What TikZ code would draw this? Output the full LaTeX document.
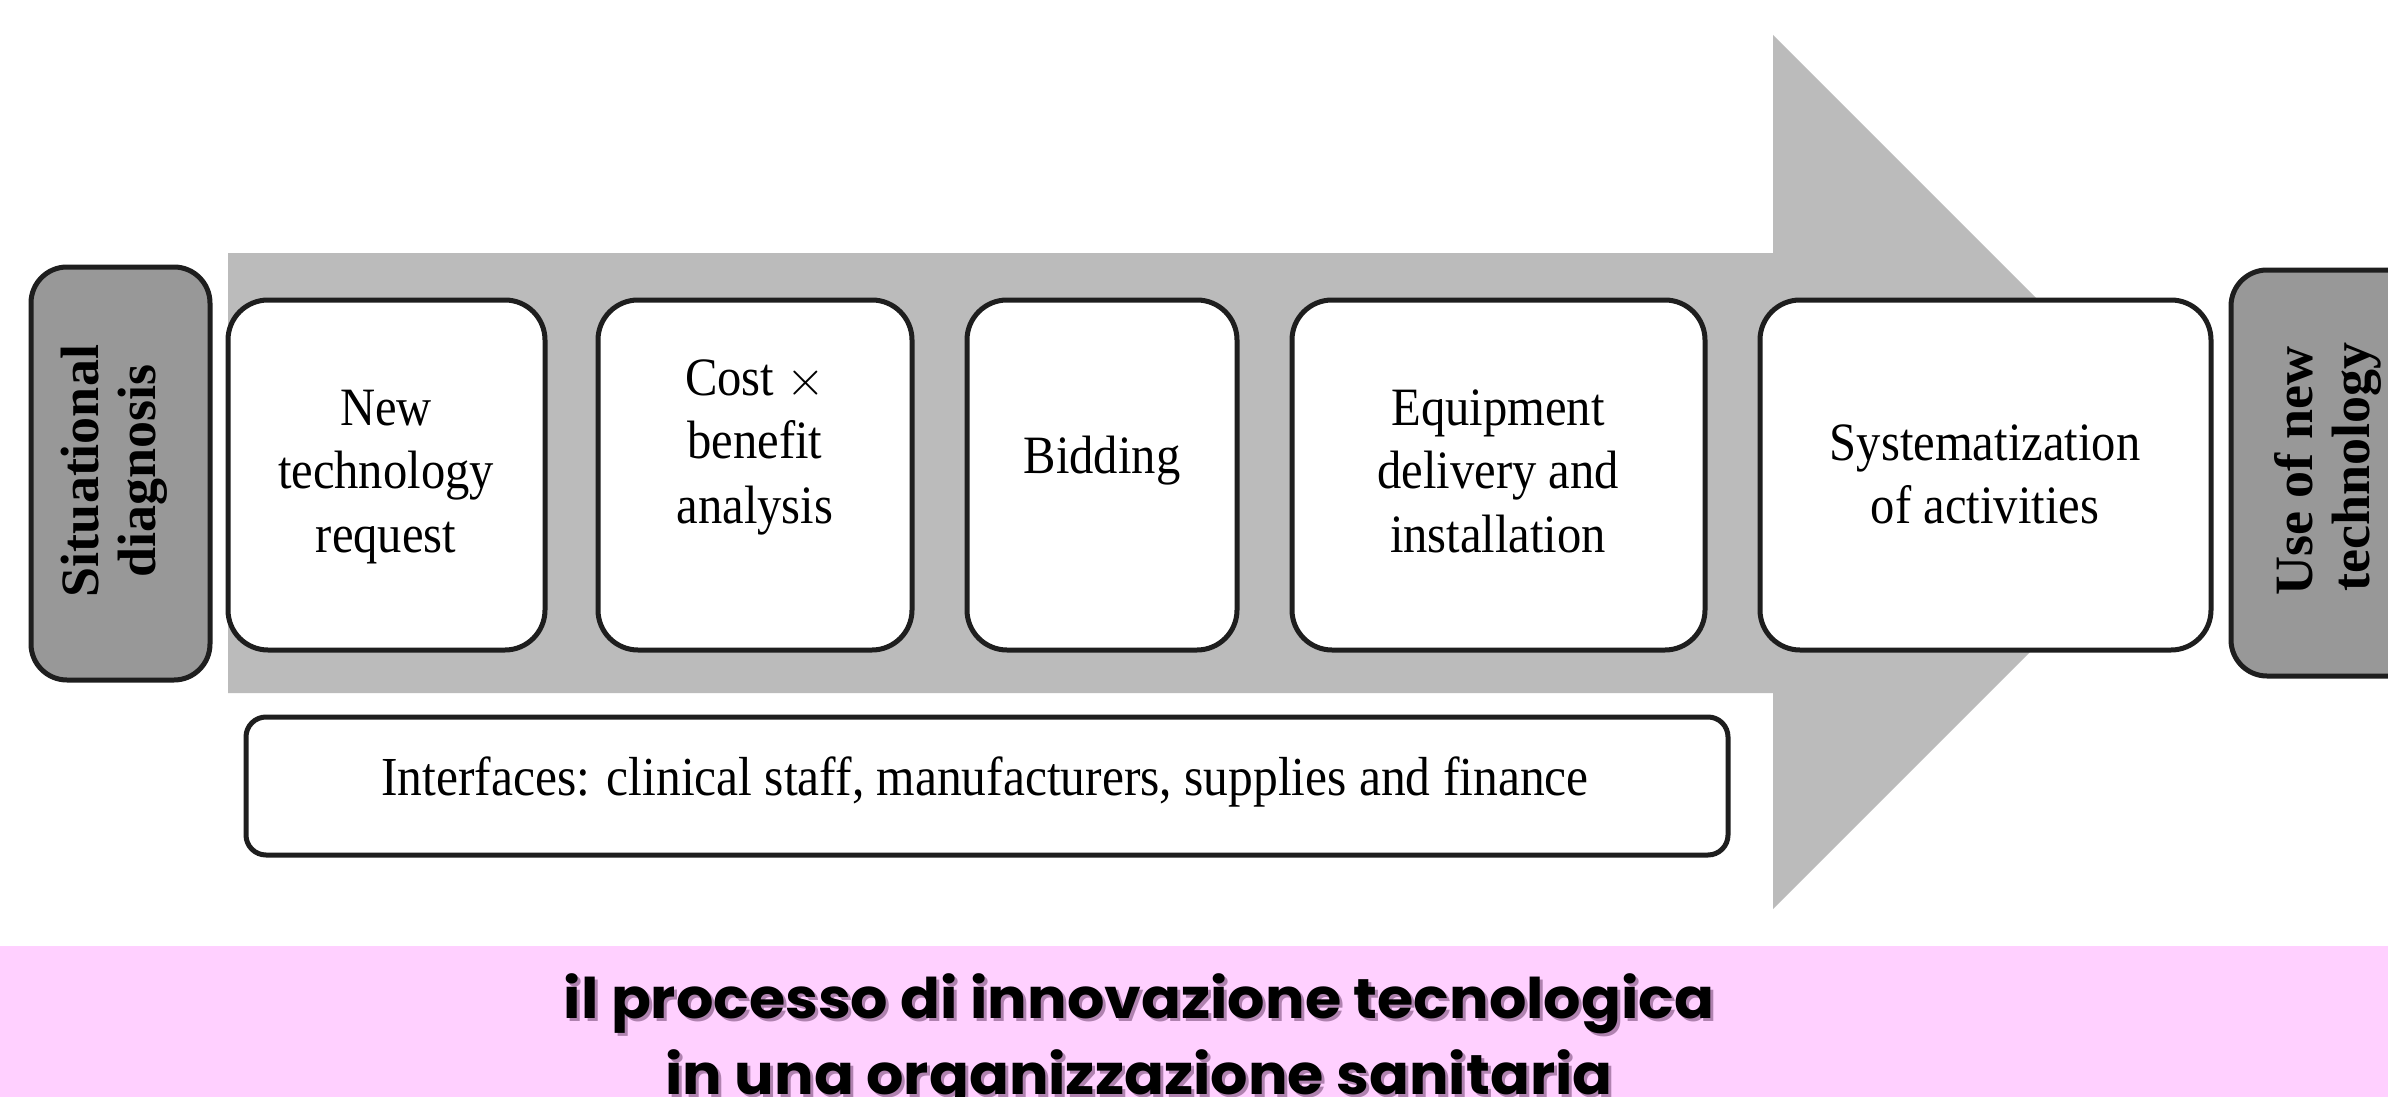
\documentclass[tikz,border=0pt]{standalone}
\usepackage{fontspec}
\setmainfont{Liberation Serif}
\newfontfamily\boxfont[FakeStretch=0.9]{Liberation Serif}
\newfontfamily\titlefont[FakeStretch=1.05]{Poppins}
\definecolor{arrowgray}{RGB}{187,187,187}
\definecolor{sidegray}{RGB}{152,152,152}
\definecolor{pinkband}{RGB}{255,208,255}
\definecolor{edgeblack}{RGB}{30,30,30}
\definecolor{titleshadow}{RGB}{175,130,175}
\begin{document}
\begin{tikzpicture}[x=0.5pt,y=-0.5pt,
  stepbox/.style={draw=edgeblack, line width=2.5pt, fill=white, rounded corners=20pt, inner sep=0pt},
  sidebox/.style={draw=edgeblack, line width=2.5pt, fill=sidegray, rounded corners=18pt, inner sep=0pt},
  ifacebox/.style={draw=edgeblack, line width=2.5pt, fill=white, rounded corners=10pt, inner sep=0pt},
  steptext/.style={anchor=base, inner sep=0pt, font=\boxfont\fontsize{27pt}{32pt}\selectfont},
  ifacetext/.style={anchor=base, inner sep=0pt, font=\boxfont\fontsize{27.5pt}{32pt}\selectfont},
  sidetext/.style={anchor=base, inner sep=0pt, rotate=90, font=\fontsize{27pt}{32pt}\selectfont\bfseries},
  titletext/.style={anchor=base, inner sep=0pt, font=\titlefont\fontsize{28pt}{38pt}\selectfont\bfseries},
  arrowbody/.style={fill=arrowgray}
]
\useasboundingbox (0,0) rectangle (2388,1097);
\clip (0,0) rectangle (2388,1097);
\fill[white] (0,0) rectangle (2388,1097);
% big arrow
\fill[arrowbody] (228,253) -- (1773,253) -- (1773,35) -- (2210,472) -- (1773,909) -- (1773,693) -- (228,693) -- cycle;
% side boxes
\node[sidebox, minimum width=89.5pt, minimum height=206.5pt] (sit) at (120.5,473.5) {};
\node[sidebox, minimum width=99.5pt, minimum height=203pt] (use) at (2330.5,473) {};
% step boxes
\node[stepbox, minimum width=158.5pt, minimum height=175pt] (b1) at (386.5,475) {};
\node[stepbox, minimum width=157pt, minimum height=175pt] (b2) at (755,475) {};
\node[stepbox, minimum width=135pt, minimum height=175pt] (b3) at (1102,475) {};
\node[stepbox, minimum width=206.5pt, minimum height=175pt] (b4) at (1498.5,475) {};
\node[stepbox, minimum width=225.5pt, minimum height=175pt] (b5) at (1985.5,475) {};
% interfaces box
\node[ifacebox, minimum width=741pt, minimum height=69pt] (ifc) at (987,786) {};
% texts
\node[sidetext] (sit1) at (98,471) {Situational};
\node[sidetext] (sit2) at (155,471) {diagnosis};
\node[sidetext] (use1) at (2312,471) {Use of new};
\node[sidetext] (use2) at (2369,467) {technology};
\node[steptext] (t1a) at (386,425) {New};
\node[steptext] (t1b) at (386,488) {technology};
\node[steptext] (t1c) at (386,552) {request};
\node[steptext] (t2a) at (755,395) {Cost $\times$};
\node[steptext] (t2b) at (755,458) {benefit};
\node[steptext] (t2c) at (755,523) {analysis};
\node[steptext] (t3a) at (1102,473) {Bidding};
\node[steptext] (t4a) at (1498,425) {Equipment};
\node[steptext] (t4b) at (1498,488) {delivery and};
\node[steptext] (t4c) at (1498,552) {installation};
\node[steptext] (t5a) at (1985,460) {Systematization};
\node[steptext] (t5b) at (1985,523) {of activities};
\node[ifacetext] (ifct) at (985,795) {Interfaces: clinical staff, manufacturers, supplies and finance};
% caption band
\fill[pinkband] (0,946) rectangle (2388,1097);
\node[titletext, text=titleshadow] (cap1s) at (1142,1021) {il processo di innovazione tecnologica};
\node[titletext, text=titleshadow] (cap2s) at (1142,1097) {in una organizzazione sanitaria};
\node[titletext] (cap1) at (1139,1018) {il processo di innovazione tecnologica};
\node[titletext] (cap2) at (1139,1094) {in una organizzazione sanitaria};
\end{tikzpicture}
\end{document}
